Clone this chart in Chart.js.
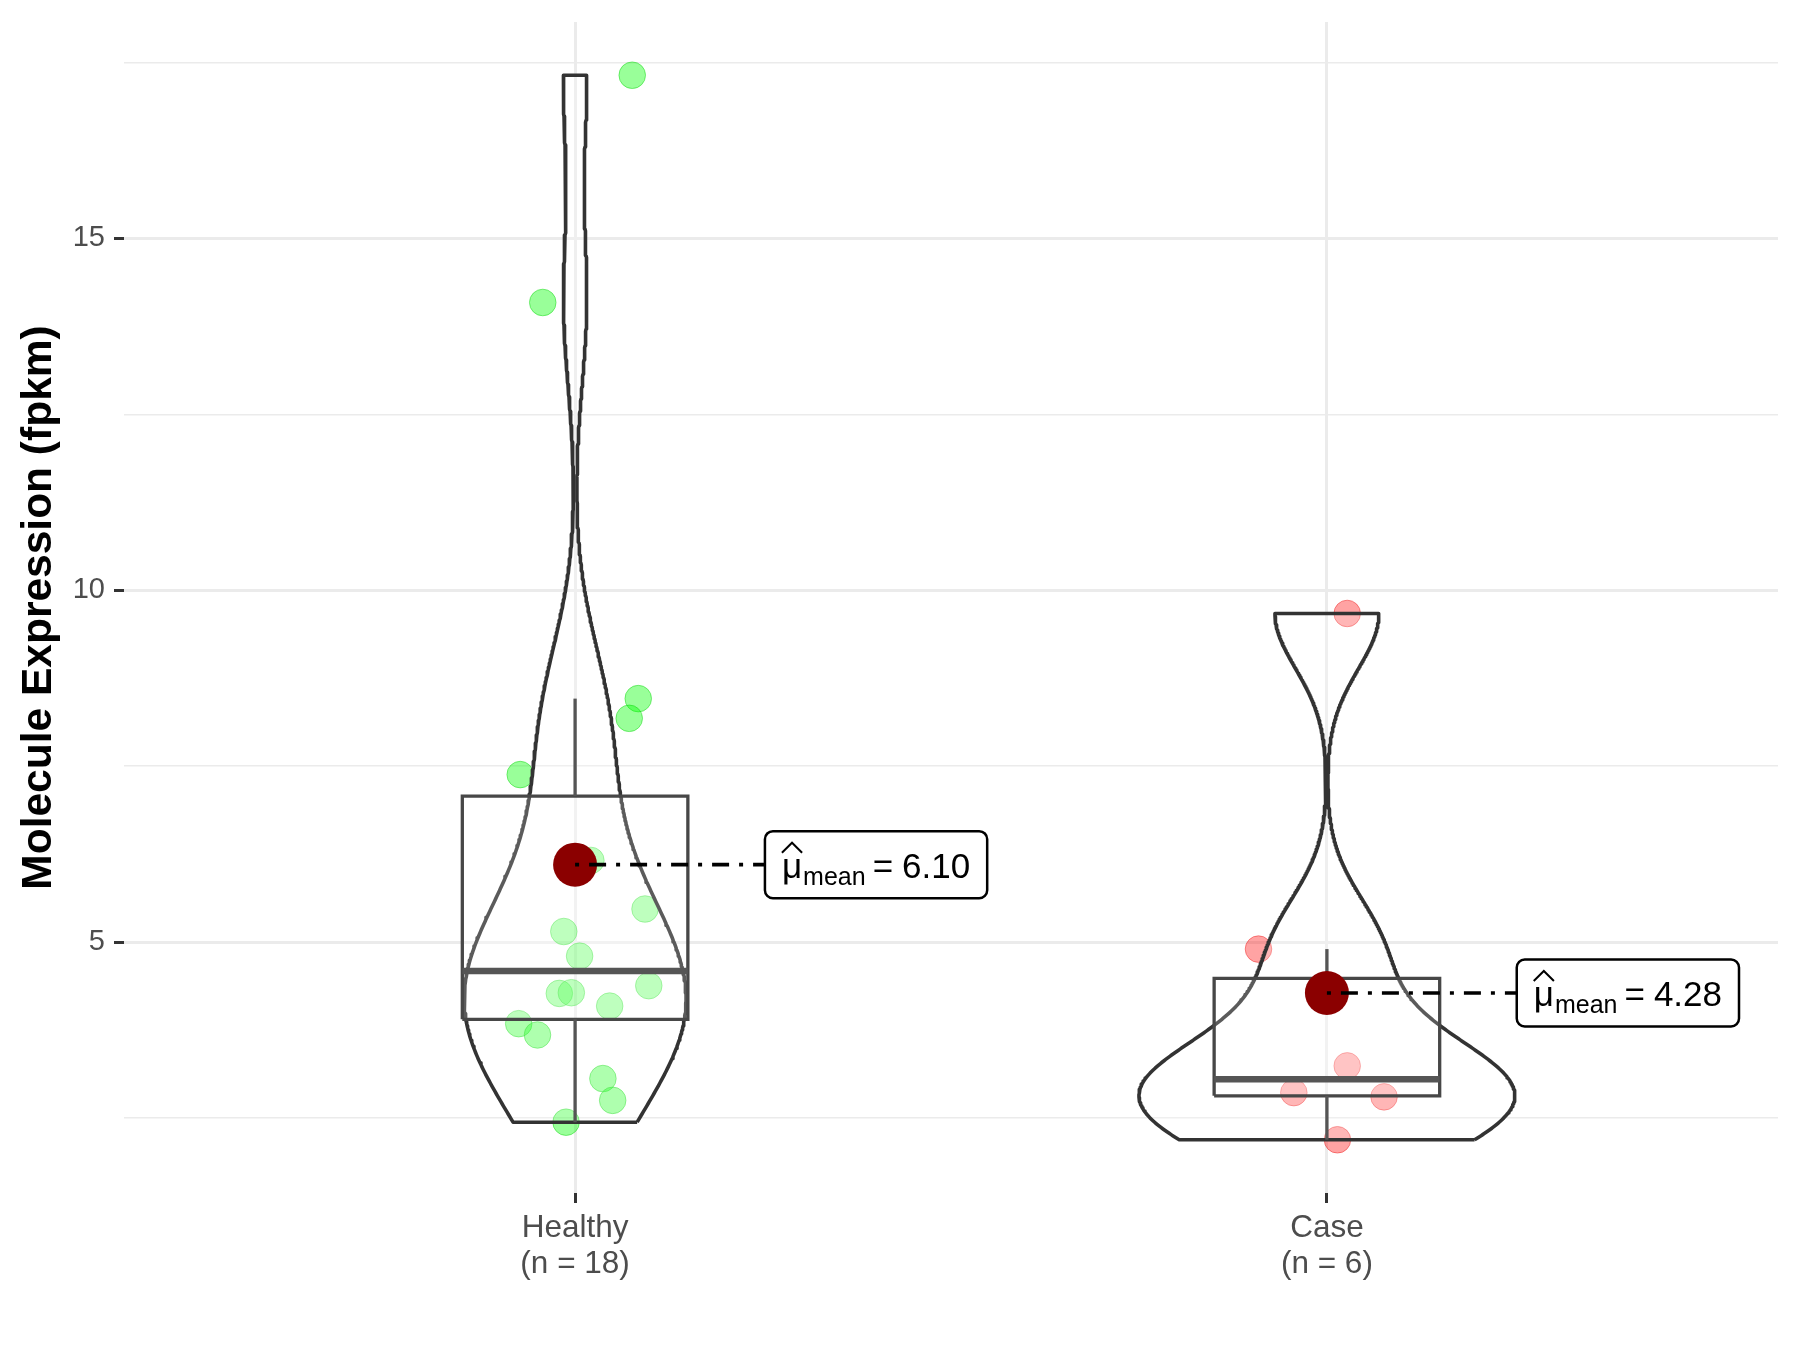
<!DOCTYPE html>
<html lang="en">
<head>
<meta charset="UTF-8">
<title>Molecule Expression</title>
<script src="https://cdn.jsdelivr.net/npm/chart.js@4.4.1/dist/chart.umd.min.js"></script>
<style>
    body { margin: 0; background: #fff; }
</style>
</head>
<body>
<canvas id="chart" width="1800" height="1350"></canvas>
<script>
    // Data
    var groupNames = ['Healthy', 'Case'];
    var healthyValues = [17.32, 14.09, 8.46, 8.18, 7.38, 6.16, 5.47, 5.15, 4.80, 4.27, 4.28, 4.38, 4.09, 3.84, 3.68, 3.06, 2.75, 2.44];
    var caseValues = [9.67, 4.90, 3.24, 2.86, 2.80, 2.19];
    // horizontal jitter of each point (category units)
    var healthyJitter = [0.076, -0.043, 0.084, 0.072, -0.073, 0.021, 0.093, -0.015, 0.006, -0.021, -0.005, 0.098, 0.046, -0.075, -0.050, 0.037, 0.050, -0.012];
    var caseJitter = [0.027, -0.091, 0.027, -0.044, 0.076, 0.014];
    var yTicksMajor = [5, 10, 15];
    var yTicksMinor = [2.5, 7.5, 12.5, 17.5];

    var FONT = '"Liberation Sans", Arial, sans-serif';
    var groups = [healthyValues, caseValues];
    var jitters = [healthyJitter, caseJitter];
    var pointColors = ['rgba(0,255,0,0.4)', 'rgba(255,0,0,0.36)'];
    var pointBorders = ['rgba(0,210,0,0.45)', 'rgba(235,0,0,0.4)'];

    // --- stats helpers (same as R defaults) ---
    function quantile(arr, p) {
        var s = arr.slice().sort(function (a, b) { return a - b; });
        var h = (s.length - 1) * p, lo = Math.floor(h);
        return s[lo] + (h - lo) * ((s[lo + 1] !== undefined ? s[lo + 1] : s[lo]) - s[lo]);
    }
    function mean(arr) { return arr.reduce(function (a, b) { return a + b; }, 0) / arr.length; }
    function sd(arr) {
        var m = mean(arr);
        return Math.sqrt(arr.reduce(function (a, b) { return a + (b - m) * (b - m); }, 0) / (arr.length - 1));
    }
    function bwNrd0(arr) {
        var lo = Math.min(sd(arr), (quantile(arr, 0.75) - quantile(arr, 0.25)) / 1.34);
        return 0.9 * lo * Math.pow(arr.length, -0.2);
    }
    function density(arr, n) {
        var bw = bwNrd0(arr), mn = Math.min.apply(null, arr), mx = Math.max.apply(null, arr);
        var out = [];
        for (var i = 0; i < n; i++) {
            var y = mn + (mx - mn) * i / (n - 1), d = 0;
            arr.forEach(function (v) { var z = (y - v) / bw; d += Math.exp(-0.5 * z * z); });
            out.push({ y: y, d: d / (arr.length * bw * Math.sqrt(2 * Math.PI)) });
        }
        return out;
    }

    var dens = groups.map(function (g) { return density(g, 512); });
    var maxDens = Math.max.apply(null, dens.map(function (ds) { return Math.max.apply(null, ds.map(function (p) { return p.d; })); }));

    var allValues = healthyValues.concat(caseValues);
    var vMin = Math.min.apply(null, allValues), vMax = Math.max.apply(null, allValues);
    var yMin = vMin - 0.05 * (vMax - vMin), yMax = vMax + 0.05 * (vMax - vMin);

    var datasets = [];
    var means = [];
    groups.forEach(function (g, gi) {
        var c = gi + 1;
        // jittered points
        datasets.push({
            type: 'scatter', order: 6,
            data: g.map(function (v, i) { return { x: c + jitters[gi][i], y: v }; }),
            pointRadius: 13.3, backgroundColor: pointColors[gi], borderColor: pointBorders[gi], borderWidth: 1
        });
        // violin (scale = area, width 0.5)
        var right = dens[gi].map(function (p) { return { x: c + 0.25 * p.d / maxDens, y: p.y }; });
        var left = dens[gi].slice().reverse().map(function (p) { return { x: c - 0.25 * p.d / maxDens, y: p.y }; });
        var poly = right.concat(left);
        poly.push(right[0]);
        datasets.push({
            type: 'line', order: 5, data: poly, fill: 'shape',
            backgroundColor: 'rgba(255,255,255,0.2)', borderColor: '#333333', borderWidth: 3.6,
            pointRadius: 0, tension: 0, borderJoinStyle: 'round'
        });
        // box plot
        var q1 = quantile(g, 0.25), med = quantile(g, 0.5), q3 = quantile(g, 0.75), iqr = q3 - q1;
        var hiW = Math.max.apply(null, g.filter(function (v) { return v <= q3 + 1.5 * iqr; }));
        var loW = Math.min.apply(null, g.filter(function (v) { return v >= q1 - 1.5 * iqr; }));
        datasets.push({
            type: 'line', order: 4, fill: 'shape',
            data: [{ x: c - 0.15, y: q1 }, { x: c + 0.15, y: q1 }, { x: c + 0.15, y: q3 }, { x: c - 0.15, y: q3 }, { x: c - 0.15, y: q1 }],
            backgroundColor: 'rgba(255,255,255,0.2)', borderColor: '#474747', borderWidth: 3.3, pointRadius: 0, borderJoinStyle: 'miter'
        });
        datasets.push({
            type: 'line', order: 3, data: [{ x: c - 0.15, y: med }, { x: c + 0.15, y: med }],
            borderColor: '#555555', borderWidth: 6.5, pointRadius: 0, borderCapStyle: 'butt'
        });
        datasets.push({
            type: 'line', order: 3, data: [{ x: c, y: q3 }, { x: c, y: hiW }],
            borderColor: '#555555', borderWidth: 3.3, pointRadius: 0
        });
        datasets.push({
            type: 'line', order: 3, data: [{ x: c, y: q1 }, { x: c, y: loW }],
            borderColor: '#555555', borderWidth: 3.3, pointRadius: 0
        });
        // mean
        var m = mean(g);
        means.push(m);
        datasets.push({
            type: 'scatter', order: 2, data: [{ x: c, y: m }],
            pointRadius: 22, backgroundColor: '#8B0000', borderWidth: 0
        });
        datasets.push({
            type: 'line', order: 1, data: [{ x: c, y: m }, { x: c + 0.2525, y: m }],
            borderColor: '#000000', borderWidth: 3.6, borderDash: [4, 10, 17, 10], pointRadius: 0
        });
    });

    function roundRect(ctx, x, y, w, h, r) {
        ctx.beginPath();
        ctx.moveTo(x + r, y);
        ctx.arcTo(x + w, y, x + w, y + h, r);
        ctx.arcTo(x + w, y + h, x, y + h, r);
        ctx.arcTo(x, y + h, x, y, r);
        ctx.arcTo(x, y, x + w, y, r);
        ctx.closePath();
    }

    // mean labels: hat(mu)[mean] == value
    var meanLabels = {
        id: 'meanLabels',
        afterDatasetsDraw: function (chart) {
            var ctx = chart.ctx, xs = chart.scales.x, ys = chart.scales.y;
            means.forEach(function (m, gi) {
                var left = xs.getPixelForValue(gi + 1 + 0.2525), cy = ys.getPixelForValue(m);
                var txt = m.toFixed(2);
                var big = '35px ' + FONT, small = '25px ' + FONT;
                ctx.save();
                ctx.font = big;
                var muW = ctx.measureText('\u03bc').width, eqW = ctx.measureText('=').width, valW = ctx.measureText(txt).width;
                ctx.font = small;
                var subW = ctx.measureText('mean').width;
                var w = 17 + muW + 1 + subW + 7 + eqW + 9 + valW + 17, h = 67;
                roundRect(ctx, left, cy - h / 2, w, h, 8);
                ctx.fillStyle = '#ffffff';
                ctx.fill();
                ctx.lineWidth = 2.5;
                ctx.strokeStyle = '#000000';
                ctx.stroke();
                var base = cy + 13, x = left + 17;
                ctx.fillStyle = '#000000';
                ctx.textBaseline = 'alphabetic';
                ctx.textAlign = 'left';
                ctx.font = big;
                ctx.fillText('\u03bc', x, base);
                // hat
                ctx.beginPath();
                ctx.moveTo(x, base - 25);
                ctx.lineTo(x + muW / 2, base - 35);
                ctx.lineTo(x + muW, base - 25);
                ctx.lineWidth = 2;
                ctx.stroke();
                x += muW + 1;
                ctx.font = small;
                ctx.fillText('mean', x, base + 7);
                x += subW + 7;
                ctx.font = big;
                ctx.fillText('=', x, base);
                x += eqW + 9;
                ctx.fillText(txt, x, base);
                ctx.restore();
            });
        }
    };

    var xLabels = groupNames.map(function (n, i) { return [n, '(n = ' + groups[i].length + ')']; });
    var yTicksAll = yTicksMajor.concat(yTicksMinor).sort(function (a, b) { return a - b; });
    function isMajor(v) { return yTicksMajor.indexOf(v) >= 0; }

    new Chart(document.getElementById('chart'), {
        type: 'scatter',
        data: { datasets: datasets },
        options: {
            responsive: false,
            animation: false,
            events: [],
            layout: { padding: { left: 0, top: 21, right: 20, bottom: 0 } },
            plugins: { legend: { display: false }, tooltip: { enabled: false } },
            scales: {
                x: {
                    type: 'linear', min: 0.4, max: 2.6,
                    afterBuildTicks: function (s) { s.ticks = groupNames.map(function (n, i) { return { value: i + 1 }; }); },
                    afterFit: function (s) { s.height = 157; s.paddingLeft = 0; s.paddingRight = 0; },
                    ticks: {
                        callback: function (v, i) { return xLabels[i]; },
                        color: '#4D4D4D', font: { family: FONT, size: 31.5, lineHeight: 1.15 },
                        padding: 7, maxRotation: 0, autoSkip: false
                    },
                    grid: { color: '#EBEBEB', lineWidth: 3, tickColor: '#333333', tickLength: 10, tickWidth: 3 },
                    border: { display: false }
                },
                y: {
                    type: 'linear', min: yMin, max: yMax,
                    afterBuildTicks: function (s) { s.ticks = yTicksAll.map(function (v) { return { value: v }; }); },
                    afterFit: function (s) { s.width = 124; s.paddingTop = 0; s.paddingBottom = 0; },
                    ticks: {
                        callback: function (v) { return isMajor(v) ? String(v) : ''; },
                        color: '#4D4D4D', font: { family: FONT, size: 29 }, padding: 9, autoSkip: false
                    },
                    grid: {
                        color: '#EBEBEB',
                        lineWidth: function (c) { return c.tick && isMajor(c.tick.value) ? 3 : 1.6; },
                        tickColor: function (c) { return c.tick && isMajor(c.tick.value) ? '#333333' : 'rgba(0,0,0,0)'; },
                        tickLength: 10, tickWidth: 3
                    },
                    border: { display: false },
                    title: {
                        display: true, text: 'Molecule Expression (fpkm)', color: '#000000',
                        font: { family: FONT, size: 42.5, weight: 'bold' }, padding: { top: 14, bottom: 0 }
                    }
                }
            }
        },
        plugins: [meanLabels]
    });
</script>
</body>
</html>
